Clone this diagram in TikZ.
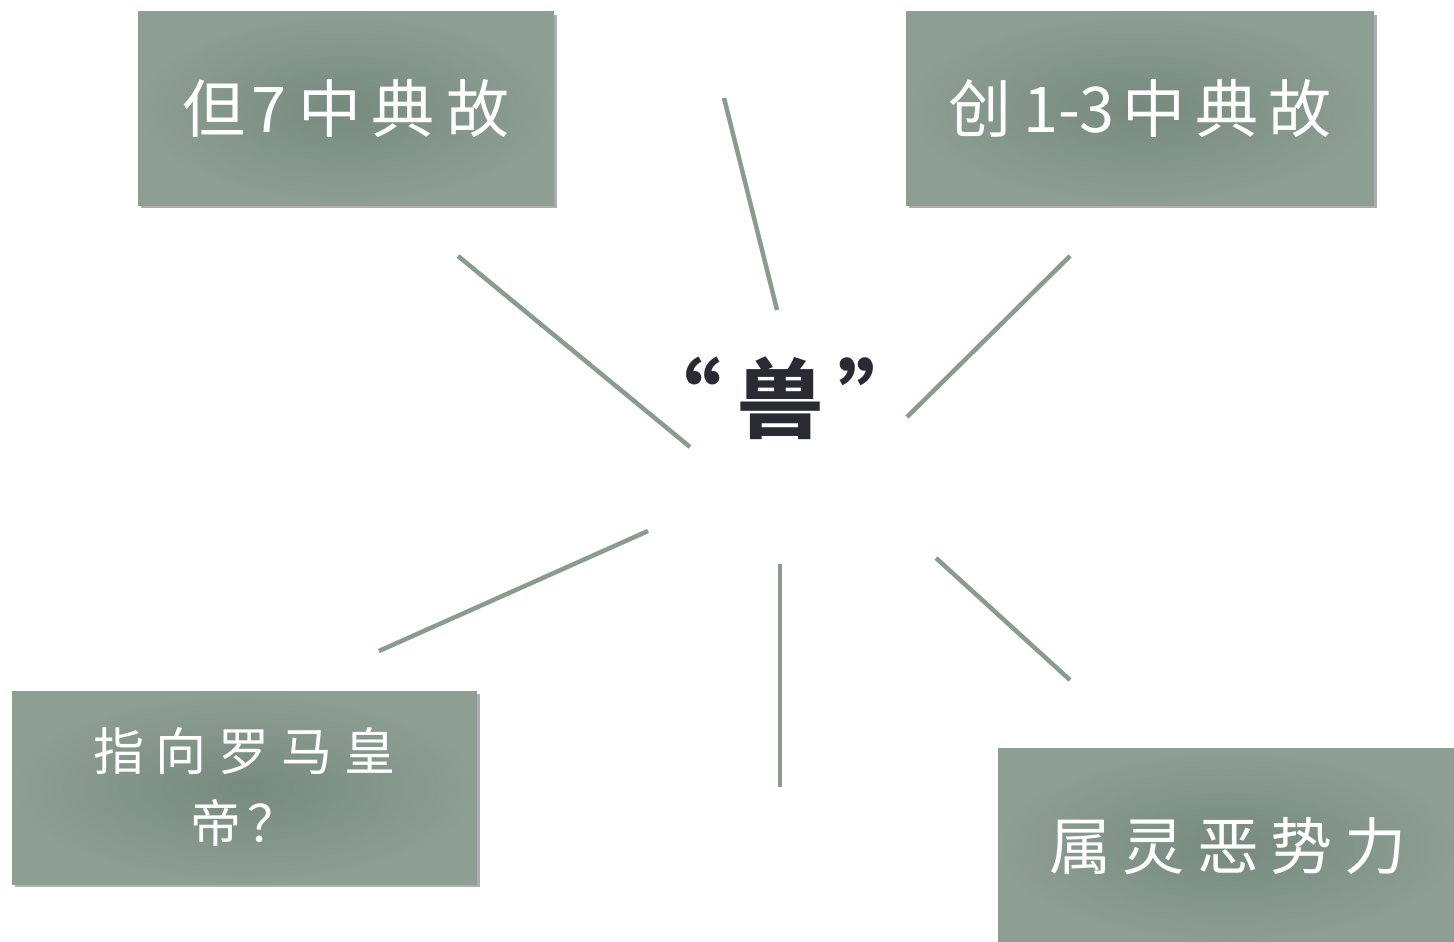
\documentclass[tikz,border=0pt]{standalone}
\usepackage{fontspec}
\setmainfont{Noto Sans CJK SC}
\newfontfamily\cjk{Noto Sans CJK SC}
\usetikzlibrary{shadows}
\definecolor{boxin}{HTML}{778A7E}
\definecolor{boxout}{HTML}{8D9F93}
\definecolor{linec}{HTML}{8A9C8E}
\definecolor{ink}{HTML}{2A2A33}
\newcommand{\gapx}[1]{\hspace{#1}}
\tikzset{
  card/.style={rectangle, inner sep=0pt, shading=radial, inner color=boxin, outer color=boxout,
    drop shadow={shadow xshift=3pt, shadow yshift=-3pt, opacity=0.45, fill=black!70},
    text=white, font=\cjk, align=center},
  spoke/.style={draw=linec, line width=4.5pt},
}
\begin{document}
\begin{tikzpicture}[x=1pt,y=-1pt]
\useasboundingbox (0,0) rectangle (1454,942);
\node[card, minimum width=416pt, minimum height=193pt, font=\cjk\fontsize{63}{64}\selectfont] (b1) at (346,108.5) {但\gapx{6pt}7\gapx{12pt}中\gapx{10pt}典\gapx{12pt}故};
\node[card, minimum width=468pt, minimum height=193pt, font=\cjk\fontsize{63}{64}\selectfont] (b2) at (1140,108.5) {创\gapx{12pt}1-3\gapx{8pt}中\gapx{10pt}典\gapx{10pt}故};
\node[card, minimum width=465pt, minimum height=193pt, font=\cjk\fontsize{51}{72}\selectfont] (b3) at (244.5,787.5) {指\gapx{12pt}向\gapx{12pt}罗\gapx{12pt}马\gapx{12pt}皇\\帝\gapx{6pt}？};
\node[card, minimum width=460pt, minimum height=196pt, font=\cjk\fontsize{62}{64}\selectfont] (b4) at (1228,846) {属\gapx{12pt}灵\gapx{12pt}恶\gapx{12pt}势\gapx{12pt}力};
\node[text=ink, font=\cjk\bfseries\fontsize{86}{90}\selectfont, inner sep=0pt] (c) at (780,398) {“\gapx{16pt}兽\gapx{16pt}”};
\coordinate (a1) at (458,256); \coordinate (a2) at (690,447);
\coordinate (d1) at (724,98);  \coordinate (d2) at (777,310);
\coordinate (e1) at (1070,256); \coordinate (e2) at (907,417);
\coordinate (f1) at (648,531); \coordinate (f2) at (379,651);
\coordinate (g1) at (780,564); \coordinate (g2) at (780,787);
\coordinate (h1) at (936,558); \coordinate (h2) at (1070,680);
\draw[spoke] (a1) -- (a2);
\draw[spoke] (d1) -- (d2);
\draw[spoke] (e1) -- (e2);
\draw[spoke] (f1) -- (f2);
\draw[spoke] (g1) -- (g2);
\draw[spoke] (h1) -- (h2);
\end{tikzpicture}
\end{document}
